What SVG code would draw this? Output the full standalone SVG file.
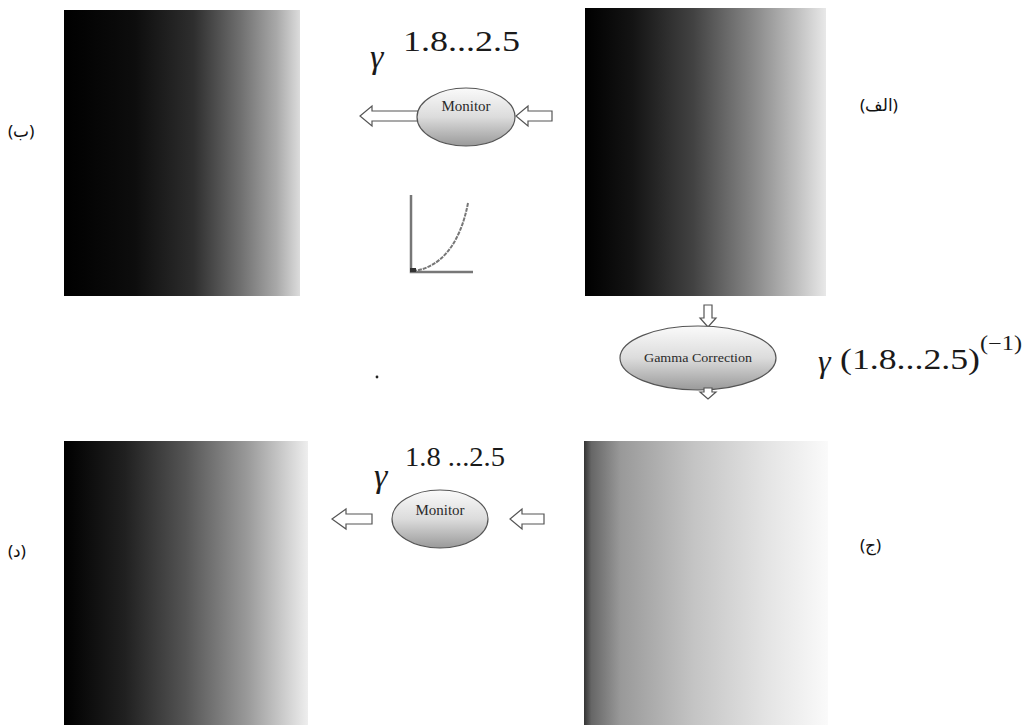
<svg xmlns="http://www.w3.org/2000/svg" width="1026" height="725" viewBox="0 0 1026 725">
<style>
.lbl{font-family:"Noto Sans","DejaVu Sans",sans-serif;font-size:17px;fill:#111}
.node{fill:url(#eg);stroke:#555;stroke-width:1.2}
.nt{font-family:"Liberation Serif","DejaVu Serif",serif;fill:#2a2a2a;text-anchor:middle}
.arr{fill:#fff;stroke:#555;stroke-width:1.2}
.gm{font-family:"Liberation Serif","DejaVu Serif",serif;fill:#1a1a1a}
.gi{font-family:"Liberation Serif","DejaVu Serif",serif;fill:#1a1a1a;font-style:italic}
</style>
<defs>
<linearGradient id="gA" x1="0" y1="0" x2="1" y2="0">
<stop offset="0" stop-color="#000"/><stop offset="0.3" stop-color="#0d0d0d"/><stop offset="0.55" stop-color="#2e2e2e"/><stop offset="0.75" stop-color="#707070"/><stop offset="0.9" stop-color="#a8a8a8"/><stop offset="1" stop-color="#dcdcdc"/>
</linearGradient>
<linearGradient id="gB" x1="0" y1="0" x2="1" y2="0">
<stop offset="0" stop-color="#000"/><stop offset="0.2" stop-color="#141414"/><stop offset="0.45" stop-color="#424242"/><stop offset="0.7" stop-color="#888"/><stop offset="0.88" stop-color="#c0c0c0"/><stop offset="1" stop-color="#e8e8e8"/>
</linearGradient>
<linearGradient id="gC" x1="0" y1="0" x2="1" y2="0">
<stop offset="0" stop-color="#000"/><stop offset="0.25" stop-color="#202020"/><stop offset="0.5" stop-color="#555"/><stop offset="0.75" stop-color="#999"/><stop offset="1" stop-color="#eee"/>
</linearGradient>
<linearGradient id="gD" x1="0" y1="0" x2="1" y2="0">
<stop offset="0" stop-color="#333"/><stop offset="0.03" stop-color="#666"/><stop offset="0.15" stop-color="#999"/><stop offset="0.45" stop-color="#c4c4c4"/><stop offset="0.75" stop-color="#e4e4e4"/><stop offset="1" stop-color="#fafafa"/>
</linearGradient>
<linearGradient id="eg" x1="0" y1="0" x2="0" y2="1">
<stop offset="0" stop-color="#fafafa"/><stop offset="0.5" stop-color="#dcdcdc"/><stop offset="1" stop-color="#9a9a9a"/>
</linearGradient>
</defs>
<rect width="1026" height="725" fill="#fff"/>
<g id="img-b"><rect x="64" y="10" width="236" height="286" fill="url(#gA)"/></g>
<g id="img-alef"><rect x="585" y="8" width="241" height="288" fill="url(#gB)"/></g>
<g id="img-d"><rect x="64" y="441" width="244" height="284" fill="url(#gC)"/></g>
<g id="img-j"><rect x="584" y="441" width="244" height="284" fill="url(#gD)"/></g>
<g id="labels">
<text class="lbl" x="8" y="137">(ب)</text>
<text class="lbl" x="860" y="111">(الف)</text>
<text class="lbl" x="8" y="557">(د)</text>
<text class="lbl" x="860" y="551">(ج)</text>
</g>
<g id="connectors">
<path class="arr" d="M418,111 H372 V106 L360,116 L372,126 V121 H418 Z"/>
<path class="arr" d="M552,111 H528 V106 L516,116 L528,126 V121 H552 Z"/>
<path class="arr" d="M704,305 V318 H700 L708,327 L716,318 H712 V305 Z"/>
<path class="arr" d="M372,514 H346 V509 L332,519 L346,529 V524 H372 Z"/>
<path class="arr" d="M544,514 H522 V509 L510,519 L522,529 V524 H544 Z"/>
</g>
<g id="monitor1">
<ellipse class="node" cx="466" cy="117" rx="49" ry="29"/>
<text class="nt" x="466" y="111" font-size="15">Monitor</text>
</g>
<g id="gamma-correction">
<ellipse class="node" cx="698" cy="358" rx="78" ry="32"/>
<text class="nt" x="698" y="362" font-size="12" textLength="108" lengthAdjust="spacingAndGlyphs">Gamma Correction</text>
</g>
<path class="arr" d="M704,388 V392 H700 L708,399 L716,392 H712 V388 Z"/>
<g id="monitor2">
<ellipse class="node" cx="440" cy="519" rx="48" ry="29"/>
<text class="nt" x="440" y="515" font-size="15">Monitor</text>
</g>
<g id="formulas">
<text class="gi" x="370" y="68" font-size="34">γ</text>
<text class="gm" x="403" y="51" font-size="30" textLength="117" lengthAdjust="spacingAndGlyphs">1.8...2.5</text>
<text class="gi" x="818" y="372" font-size="32">γ</text>
<text class="gm" x="840" y="369" font-size="30" textLength="140" lengthAdjust="spacingAndGlyphs">(1.8...2.5)</text>
<text class="gm" x="980" y="350" font-size="20" textLength="42" lengthAdjust="spacingAndGlyphs">(−1)</text>
<text class="gi" x="374" y="487" font-size="34">γ</text>
<text class="gm" x="405" y="466" font-size="28" textLength="100" lengthAdjust="spacingAndGlyphs">1.8 ...2.5</text>
</g>
<g id="curve" fill="none" stroke="#777">
<path d="M411,195 V272 H473" stroke-width="2.5"/>
<path d="M413,271 C440,268 460,245 468,203" stroke-width="2" stroke-dasharray="4 1"/>
<rect x="410" y="268" width="6" height="4" fill="#333" stroke="none"/>
</g>
<circle cx="377" cy="377" r="1.4" fill="#222"/>
</svg>
